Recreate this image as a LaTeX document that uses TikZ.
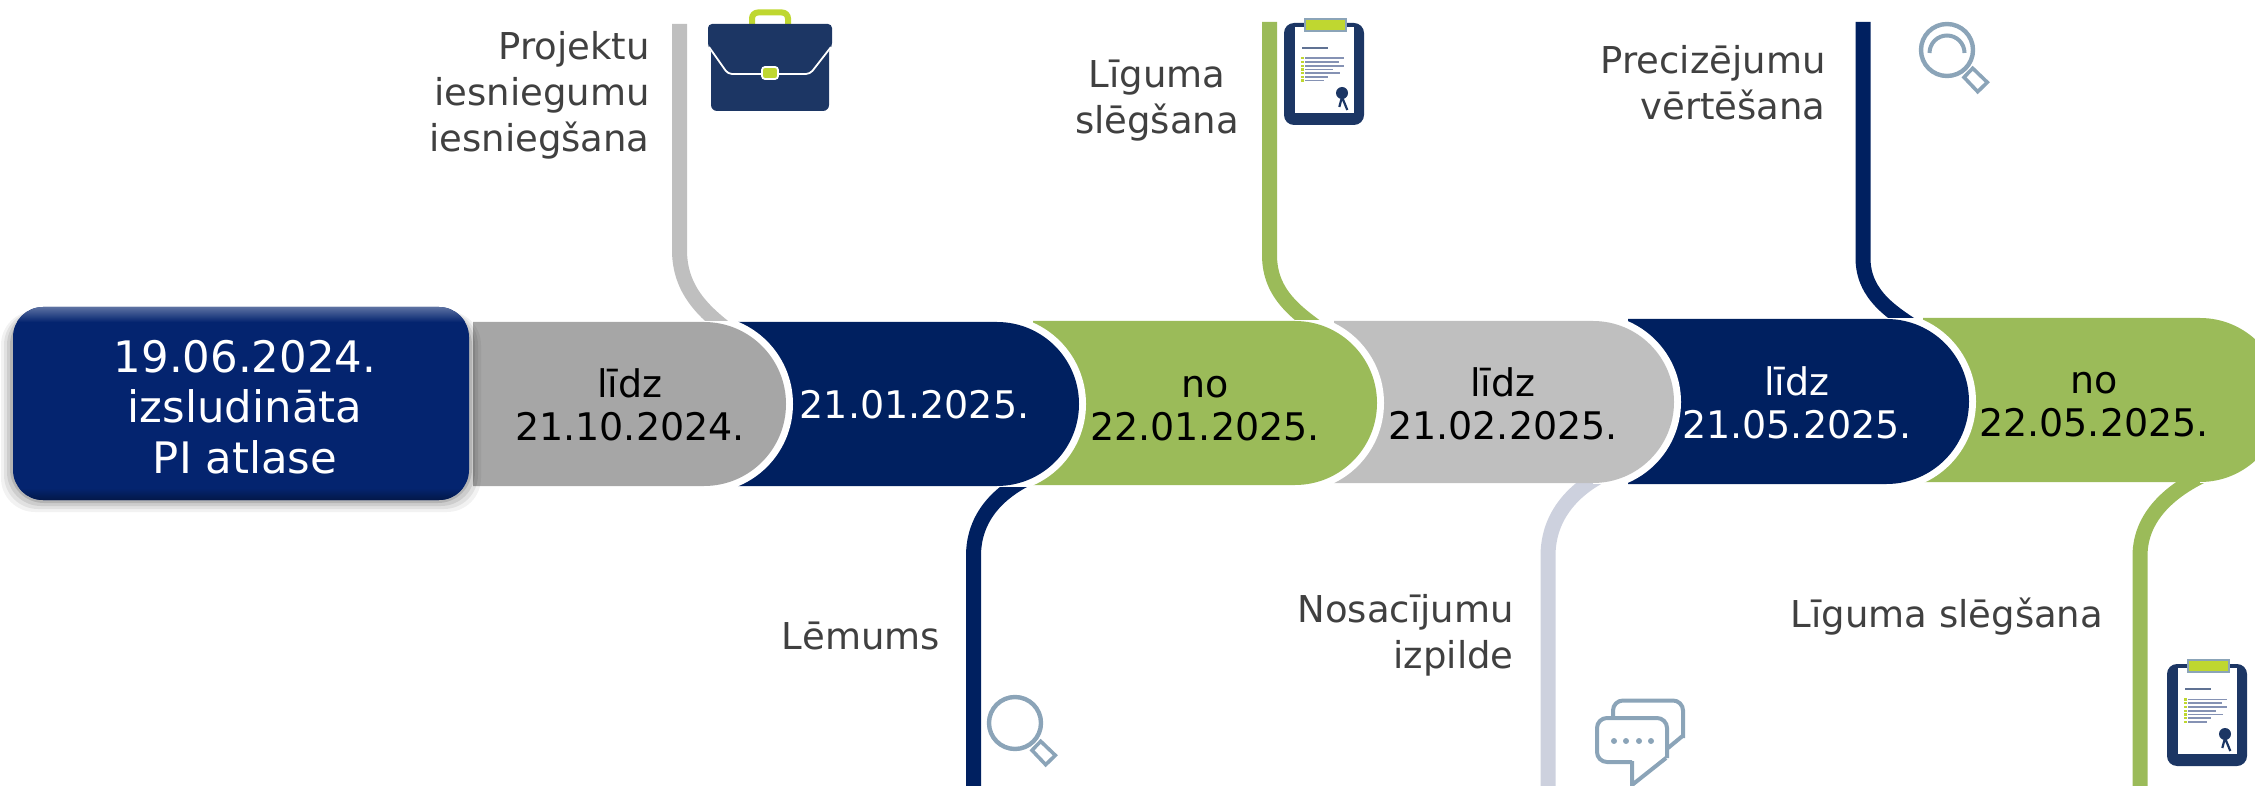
\documentclass[tikz,border=0pt]{standalone}
\usepackage{fontspec}
\setmainfont{DejaVu Sans}
\definecolor{navy}{HTML}{002060}
\definecolor{olive}{HTML}{9BBB59}
\definecolor{greyA}{HTML}{A6A6A6}
\definecolor{greyB}{HTML}{BFBFBF}
\definecolor{lav}{HTML}{CDD1DE}
\definecolor{startblue}{HTML}{04246F}
\definecolor{iconnavy}{HTML}{1C3664}
\definecolor{lime}{HTML}{BFD730}
\definecolor{steel}{HTML}{8BA4B8}
\definecolor{ink}{HTML}{404040}
\definecolor{rulelight}{HTML}{8592B4}
\newcommand{\segment}[6]{% x0, xc, top, bottom, colour, radius
  \begin{scope}
    \clip (#1-60,#3) rectangle (#2+#6+20,#4);
    \draw[white,line width=7pt] (#2,#3) arc[start angle=-90,end angle=90,radius=#6];
  \end{scope}
  \fill[#5] (#1,#3) -- (#2,#3) arc[start angle=-90,end angle=90,radius=#6] -- (#1,#4) -- cycle;
}
\tikzset{
  biglabel/.style={align=center,text=white,font=\fontsize{21.7pt}{25.2pt}\selectfont,inner sep=0pt},
  seglabel/.style={align=center,font=\fontsize{19pt}{21.5pt}\selectfont,inner sep=0pt},
  sidelabel/.style={text=ink,font=\fontsize{18.5pt}{23pt}\selectfont,inner sep=0pt},
  riser/.style={line width=7.5pt},
  clipboard/.pic={
    \fill[iconnavy,rounded corners=5pt] (0,4) rectangle (80,106);
    \fill[white] (11,8) rectangle (70,94);
    \draw[lime,fill=lime,draw=steel,line width=.6pt] (21,0) rectangle (62,12);
    \draw[iconnavy!70,line width=.8pt] (18,29) -- (44,29);
    \foreach \yy/\xx in {39.3/59.7,43/54.7,47/59.7,50.7/49.3,54.3/56,58/43.7,61.7/40.3}{
      \draw[rulelight,line width=.8pt] (21,\yy) -- (\xx,\yy);
      \fill[lime] (17,\yy-1.2) rectangle (19.5,\yy+1.2);
    }
    \draw[iconnavy,line width=1.1pt] (58,78) -- (55.3,88) (58,78) -- (63.3,91);
    \fill[iconnavy] (58,74) circle[radius=6];
  },
  lens/.pic={
    \draw[steel,line width=2.2pt] (0,0) circle[radius=26];
    \draw[steel,line width=1.8pt] (25.7,18.3) -- (40.3,32.3) -- (30.7,41.7) -- (17,27.3) -- cycle;
  },
  lensarc/.pic={
    \draw[steel,line width=2pt] (-17.5,3) arc[start angle=180,end angle=360,radius=17.5];
  }
}
\begin{document}
\begin{tikzpicture}[x=0.5pt,y=-0.5pt]
\useasboundingbox (0,0) rectangle (2255,786);
\clip (0,0) rectangle (2255,786);
% connector ends
\coordinate (c1a) at (679.5,24);  \coordinate (c1b) at (679.5,250);  \coordinate (c1c) at (730,332);
\coordinate (c2a) at (973.5,786); \coordinate (c2b) at (973.5,556);  \coordinate (c2c) at (1028,478);
\coordinate (c3a) at (1269.5,22); \coordinate (c3b) at (1269.5,255); \coordinate (c3c) at (1326,334);
\coordinate (c4a) at (1548,786);  \coordinate (c4b) at (1548,556);   \coordinate (c4c) at (1604,474);
\coordinate (c5a) at (1863,22);   \coordinate (c5b) at (1863,258);   \coordinate (c5c) at (1922,332);
\coordinate (c6a) at (2140,786);  \coordinate (c6b) at (2140,556);   \coordinate (c6c) at (2210,472);
\draw[riser,greyB] (c1a) -- (c1b) .. controls +(0,40) and +(-26,-20) .. (c1c);
\draw[riser,navy]  (c2a) -- (c2b) .. controls +(0,-40) and +(-28,14) .. (c2c);
\draw[riser,olive] (c3a) -- (c3b) .. controls +(0,40) and +(-28,-20) .. (c3c);
\draw[riser,lav]   (c4a) -- (c4b) .. controls +(0,-42) and +(-28,14) .. (c4c);
\draw[riser,navy]  (c5a) -- (c5b) .. controls +(0,38) and +(-28,-18) .. (c5c);
\draw[riser,olive] (c6a) -- (c6b) .. controls +(0,-44) and +(-32,14) .. (c6c);
% segments, right to left
\segment{1923}{2200}{318}{482}{olive}{82}
\segment{1628}{1886.5}{319}{484}{navy}{82.5}
\segment{1334}{1593}{321}{483}{greyB}{81}
\segment{1033}{1295}{321}{485}{olive}{82}
\segment{738}{997}{322}{486}{navy}{82}
\segment{473}{704}{322}{486}{greyA}{82}
% start box
\foreach \gg/\oo in {12/.05,9/.07,6/.09,3/.12}{
  \fill[black,opacity=\oo,rounded corners=17pt] (13-\gg,307+4) rectangle (469+\gg,500+\gg);
}
\fill[startblue,rounded corners=15pt] (13,307) rectangle (469,500);
\begin{scope}
  \clip[rounded corners=15pt] (13,307) rectangle (469,500);
  \shade[top color=startblue!65!white,bottom color=startblue] (13,307) rectangle (469,322);
  \shade[top color=startblue,bottom color=black!35!startblue] (13,488) rectangle (469,500);
\end{scope}
% text
\node[biglabel] (start) at (245,407) {19.06.2024.\\izsludināta\\PI atlase};
\node[seglabel] (s1) at (630,405) {līdz\\21.10.2024.};
\node[seglabel,text=white] (s2) at (914.5,405) {21.01.2025.};
\node[seglabel] (s3) at (1205,409) {no\\22.01.2025.};
\node[seglabel] (s4) at (1503,404) {līdz\\21.02.2025.};
\node[seglabel,text=white] (s5) at (1797,403) {līdz\\21.05.2025.};
\node[seglabel] (s6) at (2094,405) {no\\22.05.2025.};
\node[sidelabel,align=right,anchor=east] (l1) at (650,95) {Projektu\\iesniegumu\\iesniegšana};
\node[sidelabel,align=center] (l2) at (1157,101) {Līguma\\slēgšana};
\node[sidelabel,align=right,anchor=east] (l3) at (1826,83) {Precizējumu\\vērtēšana};
\node[sidelabel] (l4) at (861,636) {Lēmums};
\node[sidelabel,align=right,anchor=east] (l5) at (1514,635) {Nosacījumu\\izpilde};
\node[sidelabel] (l6) at (1947,617) {Līguma slēgšana};
% briefcase
\draw[lime,line width=3pt,rounded corners=3pt] (752,24) -- (752,12.5) -- (788,12.5) -- (788,24);
\fill[iconnavy,rounded corners=3pt] (711,40) rectangle (829,111);
\fill[iconnavy,rounded corners=2pt] (708,24) -- (832,24) -- (832,47) -- (810,74) -- (728,74) -- (708,47) -- cycle;
\draw[white,line width=.9pt,rounded corners=2pt] (709,47) -- (728,74) -- (810,74) -- (831,47);
\draw[white,fill=lime,line width=.9pt,rounded corners=1.5pt] (762,67) rectangle (778,79);
% icons
\pic at (1284,19) {clipboard};
\pic at (2167,660) {clipboard};
\pic at (1947,50) {lens};
\pic at (1947,50) {lensarc};
\pic at (1015,723) {lens};
% chat
\draw[steel,line width=2pt,rounded corners=5pt] (1613,718) -- (1613,700.5) -- (1683,700.5) -- (1683,738);
\draw[steel,line width=2pt] (1682.5,736) -- (1668,748);
\draw[steel,line width=2pt,rounded corners=5pt] (1632,762) -- (1597,762) -- (1597,718) -- (1667,718) -- (1667,758);
\draw[steel,line width=2pt] (1632,761) -- (1632,786) (1632,785) -- (1666,758);
\foreach \xx in {1614,1626,1639,1651}{\fill[steel] (\xx,741) circle[radius=3];}
\end{tikzpicture}
\end{document}
